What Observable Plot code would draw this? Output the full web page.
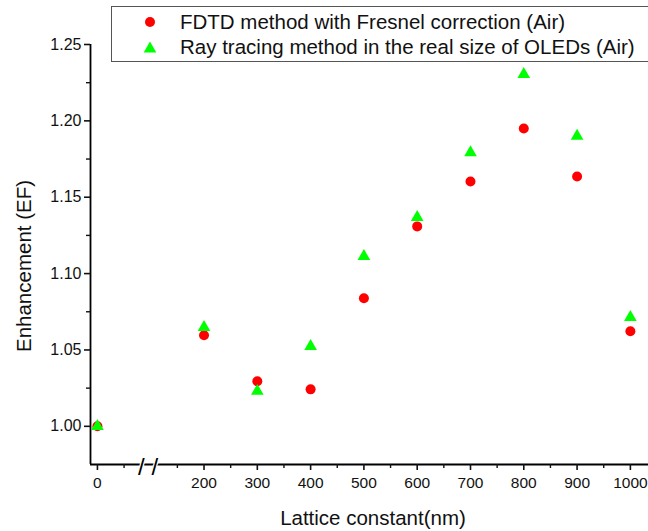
<!DOCTYPE html>
<html><head><meta charset="utf-8">
<script src="https://cdn.jsdelivr.net/npm/d3@7"></script>
<script src="https://cdn.jsdelivr.net/npm/@observablehq/plot@0.6"></script>
<style>
body{margin:0;background:#fff;font-family:"Liberation Sans",Arial,sans-serif;}
#wrap{position:relative;width:648px;height:531px;overflow:hidden;}
#legend{position:absolute;left:111px;top:6px;width:560px;height:56px;border:1.3px solid #555;background:#fff;box-sizing:border-box;font-size:20.5px;color:#111;}
.row{position:absolute;left:0;height:24px;line-height:24px;}
.row svg{position:absolute;left:30px;top:4px;}
.row span{position:absolute;left:68px;white-space:nowrap;}
</style></head>
<body><div id="wrap"><div id="chart"></div>
<div id="legend">
<div class="row" style="top:3px"><svg width="16" height="16"><circle cx="8" cy="8" r="5" fill="#ff0000"/></svg><span>FDTD method with Fresnel correction (Air)</span></div>
<div class="row" style="top:28px"><svg width="16" height="16"><path d="M8,2.5 L14.3,13.5 L1.7,13.5 Z" fill="#00ff00"/></svg><span>Ray tracing method in the real size of OLEDs (Air)</span></div>
</div></div>
<script>
const lattice = [0, 200, 300, 400, 500, 600, 700, 800, 900, 1000];
const fdtd = [1.000, 1.0596, 1.0295, 1.0242, 1.0838, 1.1309, 1.1603, 1.1950, 1.1636, 1.0622];
const rayTracing = [1.000, 1.0648, 1.0230, 1.0524, 1.1113, 1.1368, 1.1793, 1.2305, 1.1900, 1.0713];
const xTicks = [0, 200, 300, 400, 500, 600, 700, 800, 900, 1000];
const xMinor = [50, 150, 250, 350, 450, 550, 650, 750, 850, 950];
const yTicks = [1.00, 1.05, 1.10, 1.15, 1.20, 1.25];
const yMinor = [1.025, 1.075, 1.125, 1.175, 1.225];
const breakAt = [95];
const xTitle = "Lattice constant(nm)";
const yTitle = "Enhancement (EF)";

const d1 = lattice.map((x,i)=>({x, y: fdtd[i]}));
const d2 = lattice.map((x,i)=>({x, y: rayTracing[i]}));
const xMin = -13, yMin = 0.975;

const plot = Plot.plot({
  width: 648, height: 531,
  marginLeft: 90, marginRight: 0, marginTop: 44, marginBottom: 67,
  style: {fontFamily: '"Liberation Sans", Arial, sans-serif', fontSize: "16px", color: "#111", background: "#fff"},
  x: {domain: [xMin, 1034]},
  y: {domain: [yMin, 1.25]},
  marks: [
    Plot.ruleX([xMin], {stroke: "#000", strokeWidth: 1.8}),
    Plot.ruleY([yMin], {stroke: "#000", strokeWidth: 1.8}),
    Plot.axisY({ticks: yTicks, tickFormat: d3.format(".2f"), tickSize: 6, tickPadding: 3, strokeWidth: 1.6, label: null, fontSize: 16}),
    Plot.axisY({ticks: yMinor, tickSize: 4, text: null, strokeWidth: 1.4, label: null}),
    Plot.axisX({ticks: xTicks, tickFormat: d3.format("d"), tickSize: 6, tickPadding: 6, strokeWidth: 1.6, label: null, fontSize: 15.5}),
    Plot.axisX({ticks: xMinor, tickSize: 4, text: null, strokeWidth: 1.4, label: null}),
    Plot.text(breakAt, {x: d=>d, y: yMin, text: ()=>"/ /", fontSize: 24, fill: "#000", stroke: "#fff", strokeWidth: 2.5, paintOrder: "stroke", dy: 3}),
    Plot.dot(d1, {x: "x", y: "y", r: 5, fill: "#ff0000", symbol: "circle"}),
    Plot.dot(d2, {x: "x", y: "y", r: 4.7, fill: "#00ff00", symbol: "triangle"})
  ]
});
document.getElementById("chart").appendChild(plot);
const svg = d3.select(plot);
svg.append("text").attr("x", 373).attr("y", 525).attr("text-anchor", "middle")
  .attr("font-size", 20.5).attr("fill", "#111").text(xTitle);
svg.append("text").attr("transform", "translate(31,266) rotate(-90)").attr("text-anchor", "middle")
  .attr("font-size", 20.5).attr("fill", "#111").text(yTitle);
</script></body></html>
